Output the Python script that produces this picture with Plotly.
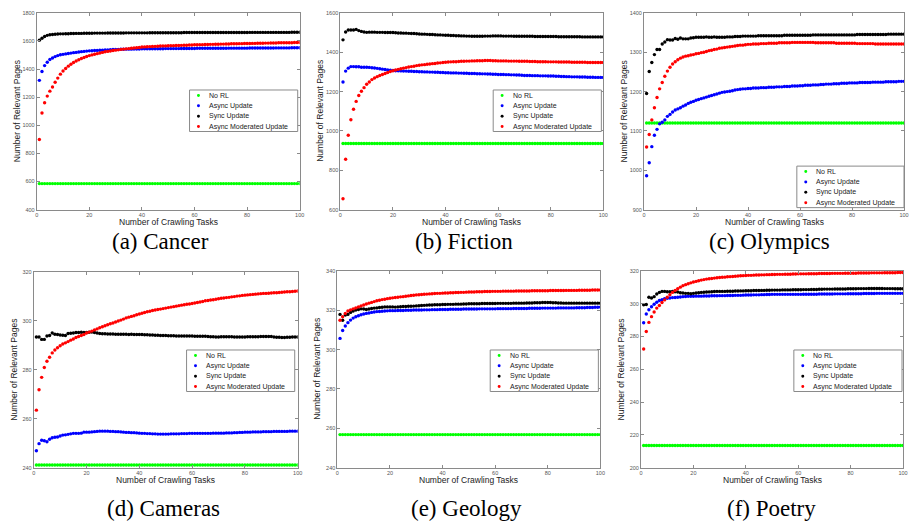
import plotly.graph_objects as go

# ---------------- data ----------------
tasks = list(range(1, 101))
series_names = ["No RL", "Async Update", "Sync Update", "Async Moderated Update"]
series_colors = ["#00ff00", "#0000ff", "#000000", "#ff0000"]
captions = ["(a) Cancer", "(b) Fiction", "(c) Olympics", "(d) Cameras", "(e) Geology", "(f) Poetry"]

cancer_norl = [
    585, 585, 585, 585, 585, 585, 585, 585, 585, 585,
    585, 585, 585, 585, 585, 585, 585, 585, 585, 585,
    585, 585, 585, 585, 585, 585, 585, 585, 585, 585,
    585, 585, 585, 585, 585, 585, 585, 585, 585, 585,
    585, 585, 585, 585, 585, 585, 585, 585, 585, 585,
    585, 585, 585, 585, 585, 585, 585, 585, 585, 585,
    585, 585, 585, 585, 585, 585, 585, 585, 585, 585,
    585, 585, 585, 585, 585, 585, 585, 585, 585, 585,
    585, 585, 585, 585, 585, 585, 585, 585, 585, 585,
    585, 585, 585, 585, 585, 585, 585, 585, 585, 585]
cancer_async = [
    1320, 1383, 1425, 1449, 1468, 1479, 1489, 1496, 1502, 1505,
    1508, 1511, 1514, 1517, 1519, 1522, 1524, 1526, 1528, 1530,
    1531, 1532, 1533, 1534, 1535, 1536, 1537, 1538, 1539, 1540,
    1540, 1541, 1541, 1542, 1542, 1542, 1543, 1543, 1543, 1544,
    1544, 1544, 1544, 1545, 1545, 1545, 1545, 1545, 1546, 1546,
    1546, 1546, 1546, 1546, 1547, 1547, 1547, 1547, 1547, 1547,
    1548, 1548, 1548, 1548, 1548, 1548, 1548, 1548, 1548, 1548,
    1548, 1548, 1549, 1549, 1549, 1549, 1549, 1549, 1549, 1549,
    1550, 1550, 1550, 1550, 1550, 1550, 1550, 1550, 1550, 1550,
    1551, 1551, 1551, 1551, 1551, 1551, 1552, 1552, 1552, 1552]
cancer_sync = [
    1606, 1620, 1632, 1640, 1644, 1646, 1648, 1650, 1651, 1651,
    1652, 1652, 1653, 1653, 1654, 1654, 1654, 1655, 1655, 1655,
    1655, 1656, 1656, 1656, 1656, 1656, 1657, 1657, 1657, 1657,
    1657, 1657, 1657, 1658, 1658, 1658, 1658, 1658, 1658, 1658,
    1658, 1658, 1659, 1659, 1659, 1659, 1659, 1659, 1659, 1659,
    1659, 1659, 1659, 1659, 1659, 1660, 1660, 1660, 1660, 1660,
    1660, 1660, 1660, 1660, 1660, 1660, 1660, 1660, 1660, 1660,
    1660, 1660, 1660, 1660, 1660, 1660, 1660, 1660, 1660, 1660,
    1661, 1661, 1661, 1661, 1661, 1661, 1661, 1661, 1661, 1661,
    1661, 1661, 1661, 1661, 1661, 1661, 1662, 1662, 1662, 1662]
cancer_mod = [
    899, 1088, 1161, 1208, 1243, 1273, 1306, 1336, 1364, 1386,
    1404, 1421, 1435, 1447, 1458, 1467, 1475, 1483, 1490, 1496,
    1501, 1506, 1510, 1515, 1519, 1523, 1526, 1529, 1532, 1535,
    1537, 1540, 1542, 1544, 1546, 1548, 1550, 1552, 1554, 1557,
    1558, 1559, 1560, 1561, 1562, 1563, 1564, 1565, 1565, 1566,
    1567, 1567, 1568, 1568, 1569, 1570, 1570, 1571, 1572, 1573,
    1573, 1574, 1574, 1575, 1575, 1576, 1576, 1577, 1577, 1578,
    1578, 1579, 1579, 1580, 1580, 1580, 1581, 1581, 1582, 1582,
    1582, 1583, 1583, 1584, 1584, 1584, 1585, 1585, 1586, 1586,
    1586, 1587, 1587, 1587, 1588, 1588, 1588, 1589, 1589, 1589]

fiction_norl = [
    936, 936, 936, 936, 936, 936, 936, 936, 936, 936,
    936, 936, 936, 936, 936, 936, 936, 936, 936, 936,
    936, 936, 936, 936, 936, 936, 936, 936, 936, 936,
    936, 936, 936, 936, 936, 936, 936, 936, 936, 936,
    936, 936, 936, 936, 936, 936, 936, 936, 936, 936,
    936, 936, 936, 936, 936, 936, 936, 936, 936, 936,
    936, 936, 936, 936, 936, 936, 936, 936, 936, 936,
    936, 936, 936, 936, 936, 936, 936, 936, 936, 936,
    936, 936, 936, 936, 936, 936, 936, 936, 936, 936,
    936, 936, 936, 936, 936, 936, 936, 936, 936, 936]
fiction_async = [
    1249, 1304, 1319, 1327, 1327, 1326, 1326, 1324, 1324, 1324,
    1323, 1321, 1320, 1318, 1316, 1314, 1312, 1310, 1309, 1307,
    1306, 1306, 1305, 1304, 1304, 1303, 1303, 1302, 1302, 1301,
    1301, 1300, 1300, 1299, 1299, 1298, 1298, 1297, 1297, 1296,
    1296, 1295, 1295, 1295, 1294, 1294, 1293, 1293, 1292, 1292,
    1292, 1291, 1291, 1290, 1290, 1289, 1289, 1288, 1288, 1287,
    1287, 1287, 1286, 1286, 1285, 1285, 1284, 1284, 1283, 1282,
    1282, 1282, 1281, 1281, 1281, 1280, 1280, 1280, 1279, 1279,
    1279, 1278, 1278, 1277, 1277, 1276, 1276, 1275, 1275, 1275,
    1274, 1274, 1274, 1273, 1273, 1273, 1272, 1272, 1272, 1272]
fiction_sync = [
    1463, 1503, 1513, 1513, 1513, 1516, 1510, 1506, 1503, 1501,
    1502, 1502, 1502, 1501, 1501, 1501, 1500, 1500, 1500, 1500,
    1499, 1498, 1498, 1497, 1497, 1496, 1495, 1495, 1494, 1493,
    1492, 1492, 1491, 1490, 1490, 1489, 1488, 1488, 1487, 1486,
    1486, 1485, 1485, 1484, 1484, 1483, 1483, 1482, 1482, 1481,
    1481, 1481, 1481, 1481, 1482, 1482, 1482, 1483, 1483, 1483,
    1483, 1482, 1482, 1482, 1482, 1481, 1481, 1481, 1481, 1481,
    1481, 1481, 1481, 1480, 1480, 1480, 1480, 1480, 1480, 1480,
    1480, 1480, 1479, 1479, 1479, 1479, 1479, 1479, 1479, 1479,
    1479, 1478, 1478, 1478, 1478, 1478, 1478, 1478, 1478, 1478]
fiction_mod = [
    655, 856, 978, 1057, 1110, 1150, 1180, 1202, 1220, 1237,
    1249, 1261, 1269, 1276, 1282, 1287, 1292, 1297, 1302, 1306,
    1310, 1313, 1316, 1319, 1322, 1325, 1327, 1329, 1332, 1334,
    1336, 1337, 1339, 1340, 1342, 1343, 1345, 1346, 1348, 1349,
    1350, 1351, 1352, 1352, 1353, 1354, 1354, 1355, 1355, 1356,
    1356, 1357, 1357, 1357, 1358, 1358, 1358, 1357, 1357, 1356,
    1356, 1356, 1356, 1355, 1355, 1355, 1355, 1354, 1354, 1354,
    1354, 1353, 1353, 1353, 1352, 1352, 1352, 1352, 1351, 1351,
    1351, 1351, 1350, 1350, 1350, 1350, 1350, 1349, 1349, 1349,
    1349, 1349, 1349, 1348, 1348, 1348, 1348, 1348, 1348, 1348]

olympics_norl = [
    1120, 1120, 1120, 1120, 1120, 1120, 1120, 1120, 1120, 1120,
    1120, 1120, 1120, 1120, 1120, 1120, 1120, 1120, 1120, 1120,
    1120, 1120, 1120, 1120, 1120, 1120, 1120, 1120, 1120, 1120,
    1120, 1120, 1120, 1120, 1120, 1120, 1120, 1120, 1120, 1120,
    1120, 1120, 1120, 1120, 1120, 1120, 1120, 1120, 1120, 1120,
    1120, 1120, 1120, 1120, 1120, 1120, 1120, 1120, 1120, 1120,
    1120, 1120, 1120, 1120, 1120, 1120, 1120, 1120, 1120, 1120,
    1120, 1120, 1120, 1120, 1120, 1120, 1120, 1120, 1120, 1120,
    1120, 1120, 1120, 1120, 1120, 1120, 1120, 1120, 1120, 1120,
    1120, 1120, 1120, 1120, 1120, 1120, 1120, 1120, 1120, 1120]
olympics_async = [
    986, 1019, 1060, 1089, 1104, 1118, 1122, 1128, 1137, 1142,
    1148, 1153, 1156, 1159, 1163, 1166, 1170, 1173, 1175, 1178,
    1180, 1182, 1184, 1186, 1188, 1190, 1192, 1194, 1196, 1198,
    1199, 1200, 1201, 1202, 1204, 1205, 1206, 1207, 1207, 1208,
    1208, 1209, 1209, 1209, 1210, 1210, 1210, 1211, 1211, 1211,
    1212, 1212, 1212, 1213, 1213, 1213, 1214, 1214, 1214, 1215,
    1215, 1216, 1216, 1216, 1217, 1217, 1217, 1218, 1218, 1219,
    1219, 1219, 1220, 1220, 1220, 1221, 1221, 1221, 1222, 1222,
    1222, 1222, 1223, 1223, 1223, 1223, 1223, 1224, 1224, 1224,
    1224, 1224, 1225, 1225, 1225, 1225, 1225, 1226, 1226, 1226]
olympics_sync = [
    1195, 1251, 1274, 1294, 1307, 1307, 1321, 1326, 1332, 1331,
    1331, 1335, 1333, 1336, 1334, 1334, 1334, 1336, 1337, 1338,
    1338, 1338, 1338, 1339, 1338, 1338, 1339, 1338, 1338, 1338,
    1338, 1339, 1339, 1339, 1340, 1340, 1340, 1341, 1341, 1341,
    1341, 1341, 1341, 1342, 1342, 1342, 1342, 1342, 1342, 1342,
    1342, 1342, 1342, 1343, 1343, 1343, 1343, 1343, 1343, 1343,
    1343, 1343, 1343, 1343, 1344, 1344, 1344, 1344, 1344, 1344,
    1344, 1344, 1344, 1344, 1344, 1344, 1344, 1344, 1344, 1344,
    1344, 1345, 1345, 1345, 1345, 1345, 1345, 1345, 1345, 1345,
    1345, 1345, 1345, 1346, 1346, 1346, 1346, 1346, 1346, 1346]
olympics_mod = [
    1059, 1091, 1128, 1159, 1185, 1207, 1223, 1239, 1252, 1262,
    1270, 1276, 1281, 1285, 1288, 1290, 1291, 1293, 1294, 1296,
    1297, 1299, 1300, 1302, 1304, 1305, 1307, 1308, 1310, 1311,
    1312, 1313, 1314, 1315, 1316, 1317, 1318, 1318, 1319, 1320,
    1320, 1321, 1321, 1321, 1322, 1322, 1322, 1323, 1323, 1323,
    1323, 1324, 1324, 1324, 1324, 1324, 1325, 1325, 1325, 1325,
    1325, 1325, 1325, 1325, 1325, 1324, 1324, 1324, 1324, 1324,
    1324, 1324, 1324, 1323, 1323, 1323, 1323, 1323, 1323, 1323,
    1323, 1322, 1322, 1322, 1322, 1322, 1322, 1322, 1321, 1321,
    1321, 1321, 1321, 1321, 1321, 1321, 1321, 1321, 1321, 1321]

cameras_norl = [
    241.1, 241.1, 241.1, 241.1, 241.1, 241.1, 241.1, 241.1, 241.1, 241.1,
    241.1, 241.1, 241.1, 241.1, 241.1, 241.1, 241.1, 241.1, 241.1, 241.1,
    241.1, 241.1, 241.1, 241.1, 241.1, 241.1, 241.1, 241.1, 241.1, 241.1,
    241.1, 241.1, 241.1, 241.1, 241.1, 241.1, 241.1, 241.1, 241.1, 241.1,
    241.1, 241.1, 241.1, 241.1, 241.1, 241.1, 241.1, 241.1, 241.1, 241.1,
    241.1, 241.1, 241.1, 241.1, 241.1, 241.1, 241.1, 241.1, 241.1, 241.1,
    241.1, 241.1, 241.1, 241.1, 241.1, 241.1, 241.1, 241.1, 241.1, 241.1,
    241.1, 241.1, 241.1, 241.1, 241.1, 241.1, 241.1, 241.1, 241.1, 241.1,
    241.1, 241.1, 241.1, 241.1, 241.1, 241.1, 241.1, 241.1, 241.1, 241.1,
    241.1, 241.1, 241.1, 241.1, 241.1, 241.1, 241.1, 241.1, 241.1, 241.1]
cameras_async = [
    246.9, 249.8, 251.2, 251.0, 250.6, 251.6, 252.2, 252.4, 252.5, 252.9,
    253.3, 253.4, 253.6, 253.8, 254.0, 254.0, 254.0, 254.1, 254.5, 254.5,
    254.5, 254.6, 254.7, 254.8, 254.9, 254.9, 254.9, 254.9, 254.8, 254.8,
    254.7, 254.7, 254.6, 254.5, 254.4, 254.4, 254.3, 254.3, 254.2, 254.1,
    254.0, 254.0, 253.9, 253.9, 253.8, 253.8, 253.7, 253.7, 253.7, 253.7,
    253.7, 253.8, 253.8, 253.8, 253.8, 253.9, 253.9, 253.9, 254.0, 254.0,
    254.0, 254.0, 254.0, 254.0, 254.0, 254.0, 254.0, 254.1, 254.1, 254.1,
    254.1, 254.1, 254.2, 254.2, 254.2, 254.3, 254.3, 254.4, 254.4, 254.5,
    254.5, 254.5, 254.6, 254.6, 254.6, 254.6, 254.7, 254.7, 254.7, 254.7,
    254.8, 254.8, 254.8, 254.8, 254.8, 254.8, 254.9, 254.9, 254.9, 254.9]
cameras_sync = [
    293.4, 293.4, 292.4, 292.4, 293.8, 294.0, 295.0, 294.5, 294.4, 294.2,
    294.1, 294.0, 294.8, 294.9, 295.0, 295.2, 295.2, 295.3, 295.2, 295.2,
    295.3, 295.4, 295.2, 295.0, 294.8, 294.7, 294.7, 294.6, 294.6, 294.6,
    294.5, 294.5, 294.5, 294.5, 294.5, 294.4, 294.5, 294.4, 294.4, 294.4,
    294.4, 294.3, 294.3, 294.2, 294.2, 294.1, 294.1, 294.0, 294.0, 294.0,
    293.9, 293.9, 293.9, 293.8, 293.8, 293.8, 293.8, 293.8, 293.8, 293.8,
    293.7, 293.7, 293.7, 293.7, 293.7, 293.6, 293.5, 293.5, 293.4, 293.4,
    293.5, 293.5, 293.5, 293.5, 293.5, 293.4, 293.4, 293.4, 293.4, 293.4,
    293.5, 293.5, 293.5, 293.5, 293.5, 293.6, 293.6, 293.6, 293.6, 293.6,
    293.4, 293.3, 293.3, 293.2, 293.2, 293.3, 293.3, 293.4, 293.4, 293.4]
cameras_mod = [
    263.5, 271.8, 276.9, 280.9, 283.5, 285.1, 286.9, 288.1, 289.0, 289.8,
    290.5, 291.0, 291.5, 292.1, 292.6, 293.2, 293.6, 294.0, 294.4, 295.0,
    295.4, 295.8, 296.3, 296.7, 297.2, 297.6, 298.0, 298.4, 298.8, 299.1,
    299.5, 299.9, 300.3, 300.7, 301.2, 301.5, 301.8, 302.1, 302.5, 302.8,
    303.1, 303.4, 303.7, 303.9, 304.2, 304.4, 304.6, 304.8, 305.0, 305.2,
    305.4, 305.6, 305.8, 306.0, 306.2, 306.4, 306.6, 306.8, 306.9, 307.1,
    307.3, 307.5, 307.7, 307.9, 308.2, 308.3, 308.5, 308.6, 308.8, 309.0,
    309.2, 309.3, 309.5, 309.6, 309.8, 309.9, 310.1, 310.2, 310.4, 310.5,
    310.6, 310.7, 310.8, 310.9, 311.0, 311.1, 311.2, 311.2, 311.3, 311.4,
    311.5, 311.5, 311.6, 311.7, 311.8, 311.9, 311.9, 312.0, 312.1, 312.2]

geology_norl = [
    256.8, 256.8, 256.8, 256.8, 256.8, 256.8, 256.8, 256.8, 256.8, 256.8,
    256.8, 256.8, 256.8, 256.8, 256.8, 256.8, 256.8, 256.8, 256.8, 256.8,
    256.8, 256.8, 256.8, 256.8, 256.8, 256.8, 256.8, 256.8, 256.8, 256.8,
    256.8, 256.8, 256.8, 256.8, 256.8, 256.8, 256.8, 256.8, 256.8, 256.8,
    256.8, 256.8, 256.8, 256.8, 256.8, 256.8, 256.8, 256.8, 256.8, 256.8,
    256.8, 256.8, 256.8, 256.8, 256.8, 256.8, 256.8, 256.8, 256.8, 256.8,
    256.8, 256.8, 256.8, 256.8, 256.8, 256.8, 256.8, 256.8, 256.8, 256.8,
    256.8, 256.8, 256.8, 256.8, 256.8, 256.8, 256.8, 256.8, 256.8, 256.8,
    256.8, 256.8, 256.8, 256.8, 256.8, 256.8, 256.8, 256.8, 256.8, 256.8,
    256.8, 256.8, 256.8, 256.8, 256.8, 256.8, 256.8, 256.8, 256.8, 256.8]
geology_async = [
    305.7, 309.7, 312.0, 313.7, 315.0, 316.0, 316.7, 317.2, 317.7, 318.1,
    318.4, 318.6, 318.9, 319.1, 319.3, 319.4, 319.5, 319.6, 319.7, 319.8,
    319.8, 319.8, 319.9, 319.9, 319.9, 320.0, 320.0, 320.0, 320.1, 320.1,
    320.1, 320.1, 320.2, 320.2, 320.2, 320.3, 320.3, 320.3, 320.4, 320.4,
    320.4, 320.4, 320.5, 320.5, 320.5, 320.5, 320.5, 320.6, 320.6, 320.6,
    320.6, 320.6, 320.6, 320.7, 320.7, 320.7, 320.7, 320.7, 320.7, 320.7,
    320.8, 320.8, 320.8, 320.8, 320.8, 320.8, 320.9, 320.9, 320.9, 320.9,
    320.9, 320.9, 321.0, 321.0, 321.0, 321.0, 321.0, 321.1, 321.1, 321.1,
    321.1, 321.1, 321.1, 321.2, 321.2, 321.2, 321.2, 321.2, 321.2, 321.2,
    321.3, 321.3, 321.3, 321.3, 321.4, 321.4, 321.4, 321.5, 321.5, 321.6]
geology_sync = [
    317.9, 314.9, 317.6, 317.9, 318.9, 319.6, 320.1, 320.4, 320.7, 320.6,
    320.4, 320.6, 320.9, 321.1, 321.2, 321.4, 321.5, 321.7, 321.7, 321.7,
    321.7, 321.6, 321.7, 321.8, 321.9, 321.9, 322.0, 322.0, 322.1, 322.2,
    322.3, 322.4, 322.5, 322.6, 322.7, 322.7, 322.8, 322.8, 322.8, 322.9,
    322.9, 323.0, 323.0, 323.0, 323.1, 323.1, 323.1, 323.2, 323.2, 323.3,
    323.3, 323.3, 323.3, 323.3, 323.4, 323.4, 323.4, 323.4, 323.4, 323.4,
    323.5, 323.5, 323.5, 323.5, 323.5, 323.5, 323.6, 323.6, 323.6, 323.6,
    323.6, 323.7, 323.7, 323.7, 323.8, 323.8, 323.8, 323.9, 323.9, 323.9,
    323.9, 323.8, 323.8, 323.7, 323.7, 323.6, 323.6, 323.6, 323.6, 323.6,
    323.6, 323.6, 323.6, 323.6, 323.6, 323.6, 323.6, 323.6, 323.6, 323.6]
geology_mod = [
    314.9, 316.7, 318.4, 319.6, 320.2, 320.7, 321.2, 321.7, 322.2, 322.7,
    323.2, 323.6, 324.0, 324.4, 324.8, 325.1, 325.4, 325.6, 325.9, 326.1,
    326.3, 326.5, 326.6, 326.8, 326.9, 327.1, 327.3, 327.5, 327.6, 327.8,
    327.9, 328.0, 328.1, 328.2, 328.3, 328.4, 328.5, 328.6, 328.6, 328.7,
    328.8, 328.8, 328.9, 328.9, 329.0, 329.0, 329.1, 329.1, 329.2, 329.3,
    329.3, 329.3, 329.4, 329.4, 329.4, 329.5, 329.5, 329.5, 329.6, 329.6,
    329.6, 329.6, 329.7, 329.7, 329.7, 329.7, 329.7, 329.8, 329.8, 329.8,
    329.8, 329.8, 329.8, 329.9, 329.9, 329.9, 329.9, 329.9, 329.9, 329.9,
    330.0, 330.0, 330.0, 330.0, 330.0, 330.0, 330.1, 330.1, 330.1, 330.1,
    330.1, 330.2, 330.2, 330.2, 330.2, 330.2, 330.3, 330.3, 330.3, 330.3]

poetry_norl = [
    213.5, 213.5, 213.5, 213.5, 213.5, 213.5, 213.5, 213.5, 213.5, 213.5,
    213.5, 213.5, 213.5, 213.5, 213.5, 213.5, 213.5, 213.5, 213.5, 213.5,
    213.5, 213.5, 213.5, 213.5, 213.5, 213.5, 213.5, 213.5, 213.5, 213.5,
    213.5, 213.5, 213.5, 213.5, 213.5, 213.5, 213.5, 213.5, 213.5, 213.5,
    213.5, 213.5, 213.5, 213.5, 213.5, 213.5, 213.5, 213.5, 213.5, 213.5,
    213.5, 213.5, 213.5, 213.5, 213.5, 213.5, 213.5, 213.5, 213.5, 213.5,
    213.5, 213.5, 213.5, 213.5, 213.5, 213.5, 213.5, 213.5, 213.5, 213.5,
    213.5, 213.5, 213.5, 213.5, 213.5, 213.5, 213.5, 213.5, 213.5, 213.5,
    213.5, 213.5, 213.5, 213.5, 213.5, 213.5, 213.5, 213.5, 213.5, 213.5,
    213.5, 213.5, 213.5, 213.5, 213.5, 213.5, 213.5, 213.5, 213.5, 213.5]
poetry_async = [
    288.4, 293.7, 296.3, 298.1, 299.7, 300.9, 301.9, 302.5, 303.1, 303.3,
    303.5, 303.7, 303.8, 303.9, 304.1, 304.3, 304.4, 304.5, 304.5, 304.5,
    304.6, 304.6, 304.6, 304.7, 304.7, 304.7, 304.8, 304.8, 304.8, 304.9,
    304.9, 304.9, 305.0, 305.0, 305.0, 305.1, 305.1, 305.1, 305.2, 305.3,
    305.3, 305.3, 305.4, 305.4, 305.4, 305.5, 305.5, 305.6, 305.6, 305.7,
    305.7, 305.7, 305.7, 305.7, 305.7, 305.7, 305.7, 305.7, 305.7, 305.7,
    305.7, 305.8, 305.8, 305.8, 305.8, 305.8, 305.8, 305.9, 305.9, 305.9,
    305.9, 305.9, 305.9, 306.0, 306.0, 306.0, 306.0, 306.0, 306.1, 306.1,
    306.1, 306.1, 306.1, 306.1, 306.2, 306.2, 306.2, 306.2, 306.2, 306.3,
    306.3, 306.3, 306.3, 306.3, 306.3, 306.3, 306.3, 306.3, 306.3, 306.3]
poetry_sync = [
    299.3, 299.5, 303.9, 303.5, 304.3, 305.9, 306.9, 307.5, 307.5, 307.3,
    307.3, 307.5, 307.3, 307.1, 306.7, 306.5, 306.3, 306.3, 306.1, 306.3,
    306.5, 306.7, 306.9, 307.0, 307.1, 307.2, 307.3, 307.4, 307.5, 307.5,
    307.5, 307.5, 307.6, 307.6, 307.6, 307.7, 307.7, 307.8, 307.8, 307.9,
    307.9, 307.9, 308.0, 308.0, 308.0, 308.1, 308.1, 308.2, 308.2, 308.3,
    308.3, 308.3, 308.3, 308.4, 308.4, 308.4, 308.4, 308.5, 308.5, 308.5,
    308.5, 308.6, 308.6, 308.6, 308.7, 308.7, 308.7, 308.8, 308.8, 308.9,
    308.9, 308.9, 308.9, 309.0, 309.0, 309.0, 309.0, 309.0, 309.1, 309.1,
    309.1, 309.1, 309.2, 309.2, 309.2, 309.2, 309.3, 309.3, 309.3, 309.3,
    309.3, 309.3, 309.2, 309.2, 309.2, 309.2, 309.1, 309.1, 309.1, 309.1]
poetry_mod = [
    272.4, 283.0, 288.6, 292.1, 294.9, 297.3, 298.9, 300.7, 302.3, 303.9,
    305.5, 306.9, 308.1, 309.1, 310.1, 311.0, 311.6, 312.2, 312.7, 313.2,
    313.6, 314.0, 314.4, 314.7, 315.0, 315.2, 315.4, 315.6, 315.8, 316.0,
    316.1, 316.2, 316.4, 316.5, 316.6, 316.7, 316.9, 317.0, 317.1, 317.2,
    317.3, 317.3, 317.4, 317.5, 317.5, 317.6, 317.6, 317.7, 317.7, 317.8,
    317.8, 317.9, 317.9, 317.9, 318.0, 318.0, 318.0, 318.1, 318.1, 318.2,
    318.2, 318.2, 318.2, 318.3, 318.3, 318.3, 318.3, 318.4, 318.4, 318.4,
    318.4, 318.4, 318.5, 318.5, 318.5, 318.5, 318.5, 318.6, 318.6, 318.6,
    318.6, 318.6, 318.7, 318.7, 318.7, 318.7, 318.7, 318.8, 318.8, 318.8,
    318.8, 318.8, 318.9, 318.9, 318.9, 318.9, 318.9, 319.0, 319.0, 319.0]

y_ranges = [[400, 1800], [600, 1600], [900, 1400], [240, 320], [240, 340], [200, 320]]
y_dticks = [200, 200, 100, 20, 20, 20]
x_range = [0, 100]
x_dtick = 20

panel_series = [
    [cancer_norl, cancer_async, cancer_sync, cancer_mod],
    [fiction_norl, fiction_async, fiction_sync, fiction_mod],
    [olympics_norl, olympics_async, olympics_sync, olympics_mod],
    [cameras_norl, cameras_async, cameras_sync, cameras_mod],
    [geology_norl, geology_async, geology_sync, geology_mod],
    [poetry_norl, poetry_async, poetry_sync, poetry_mod],
]

# ---------------- layout geometry (pixels) ----------------
W, H = 909, 525
# plot area boxes: left, right, top, bottom
boxes = [(35, 300, 10, 209), (341, 606, 10, 209), (647, 909, 10, 209),
         (32, 298, 272, 470), (338, 603, 271, 470), (644, 908, 271, 470)]
legend_boxes = [(189, 88), (495, 88), (801, 165), (186, 351), (492, 351), (798, 351)]
caption_pos = [(160, 241), (466, 241), (773, 241), (163, 511), (468, 511), (775, 511)]


def px(x):
    return x / W


def py(y):
    return 1 - y / H


fig = go.Figure()
shapes = []
annotations = []
axis_color = "#8a8a8a"
tick_font = dict(family="Liberation Sans", size=5.5, color="#555555")

for i in range(6):
    n = i + 1
    xa = "x" if n == 1 else f"x{n}"
    ya = "y" if n == 1 else f"y{n}"
    for s in range(4):
        fig.add_trace(go.Scatter(
            x=tasks, y=panel_series[i][s], mode="markers", xaxis=xa, yaxis=ya,
            name=series_names[s], showlegend=False,
            marker=dict(color=series_colors[s], size=3.4, symbol="circle", line=dict(width=0)),
        ))
    l, r, t, b = boxes[i]
    xk = "xaxis" if n == 1 else f"xaxis{n}"
    yk = "yaxis" if n == 1 else f"yaxis{n}"
    fig.update_layout(**{
        xk: dict(domain=[px(l), min(px(r), 1.0)], range=x_range, dtick=x_dtick, anchor=ya,
                 showline=True, linecolor=axis_color, linewidth=1, mirror="ticks",
                 ticks="inside", ticklen=3, tickcolor=axis_color, showgrid=False,
                 zeroline=False, tickfont=tick_font),
        yk: dict(domain=[py(b), py(t)], range=y_ranges[i], dtick=y_dticks[i], anchor=xa,
                 showline=True, linecolor=axis_color, linewidth=1, mirror="ticks",
                 ticks="inside", ticklen=3, tickcolor=axis_color, showgrid=False,
                 zeroline=False, tickfont=tick_font),
    })
    # axis titles
    annotations.append(dict(x=px((l + r) / 2), y=py(b + 13), xref="paper", yref="paper",
                            text="Number of Crawling Tasks", showarrow=False,
                            font=dict(family="Liberation Sans", size=8.5, color="#222222"),
                            xanchor="center", yanchor="middle"))
    annotations.append(dict(x=px(l - 20), y=py((t + b) / 2), xref="paper", yref="paper",
                            text="Number of Relevant Pages", showarrow=False, textangle=-90,
                            font=dict(family="Liberation Sans", size=8.5, color="#222222"),
                            xanchor="center", yanchor="middle"))
    # caption
    cx, cy = caption_pos[i]
    annotations.append(dict(x=px(cx), y=py(cy), xref="paper", yref="paper",
                            text=captions[i], showarrow=False,
                            font=dict(family="Liberation Serif", size=23, color="#000000"),
                            xanchor="center", yanchor="middle"))
    # legend box
    bx, by = legend_boxes[i]
    shapes.append(dict(type="rect", xref="paper", yref="paper",
                       x0=px(bx), x1=min(px(bx + 109), 1.0), y0=py(by + 42), y1=py(by),
                       line=dict(color="#8a8a8a", width=1), fillcolor="white", layer="above"))
    for s in range(4):
        yy = by + 5.5 + s * 10.5
        mx = bx + 9
        shapes.append(dict(type="circle", xref="paper", yref="paper",
                           x0=px(mx - 1.5), x1=px(mx + 1.5), y0=py(yy + 1.5), y1=py(yy - 1.5),
                           line=dict(width=0), fillcolor=series_colors[s], layer="above"))
        annotations.append(dict(x=px(bx + 17.5), y=py(yy), xref="paper", yref="paper",
                                text=series_names[s], showarrow=False,
                                font=dict(family="Liberation Sans", size=7, color="#222222"),
                                xanchor="left", yanchor="middle"))

fig.update_layout(
    width=W, height=H, margin=dict(l=0, r=0, t=0, b=0),
    paper_bgcolor="white", plot_bgcolor="white",
    shapes=shapes, annotations=annotations, showlegend=False,
)

# the page's default 8px body margin would shift the 909x525 figure; remove it
fig.write_html("out.html", config={"displayModeBar": False},
               post_script="document.body.style.margin='0px';")
